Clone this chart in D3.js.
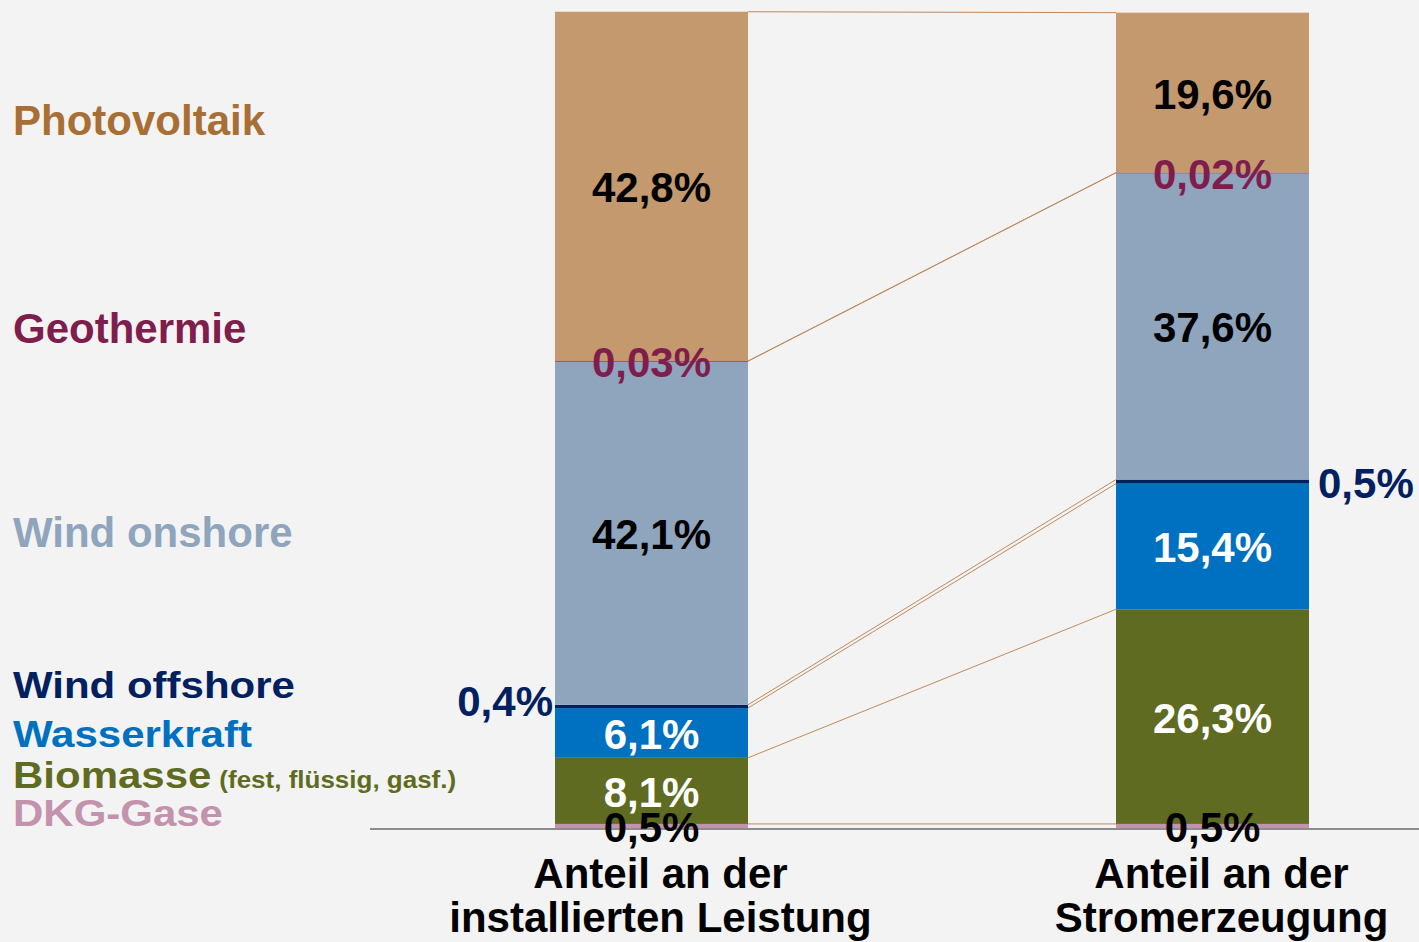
<!DOCTYPE html>
<html lang="de">
<head>
<meta charset="utf-8">
<script src="https://cdn.jsdelivr.net/npm/d3@7/dist/d3.min.js"></script>
<style>
  html, body { margin: 0; padding: 0; background: #f3f3f3; }
  svg { display: block; font-family: "Liberation Sans", Arial, sans-serif; font-weight: bold; }
</style>
</head>
<body>
<div id="chart"></div>
<script>
// data, stacked from the bottom up
const SOURCES = ['DKG-Gase', 'Biomasse', 'Wasserkraft', 'Wind offshore', 'Wind onshore', 'Geothermie', 'Photovoltaik'];
const BARS = ['Anteil an der installierten Leistung', 'Anteil an der Stromerzeugung'];
const BAR_LINES = [['Anteil an der', 'installierten Leistung'], ['Anteil an der', 'Stromerzeugung']];
const SHARE_CAPACITY = [0.5, 8.1, 6.1, 0.4, 42.1, 0.03, 42.8];
const SHARE_GENERATION = [0.5, 26.3, 15.4, 0.5, 37.6, 0.02, 19.6];
const LABEL_CAPACITY = ['0,5%', '8,1%', '6,1%', '0,4%', '42,1%', '0,03%', '42,8%'];
const LABEL_GENERATION = ['0,5%', '26,3%', '15,4%', '0,5%', '37,6%', '0,02%', '19,6%'];

const FILL = {
  'DKG-Gase': '#c392ad',
  'Biomasse': '#5f6b21',
  'Wasserkraft': '#0070c0',
  'Wind offshore': '#002060',
  'Wind onshore': '#8ea5bd',
  'Geothermie': '#7f1d4d',
  'Photovoltaik': '#c4996d'
};
const LEGEND_COLOR = { ...FILL, 'Photovoltaik': '#a86f34' };
const VALUE_COLOR = {
  'Biomasse': '#ffffff', 'Wasserkraft': '#ffffff',
  'Geothermie': '#7f1d4d', 'Wind offshore': '#002060'
};
const LEGEND_LAYOUT = {
  'Photovoltaik': [135, 1], 'Geothermie': [343, 1], 'Wind onshore': [547, 1],
  'Wind offshore': [698, 0.87], 'Wasserkraft': [747, 0.87], 'Biomasse': [788, 0.9], 'DKG-Gase': [826, 0.9]
};

const width = 1419, height = 942;
const svg = d3.select('#chart').append('svg')
  .attr('width', width).attr('height', height);

svg.append('rect').attr('width', width).attr('height', height).attr('fill', '#f3f3f3');

const x = d3.scaleBand().domain(BARS).range([555, 1309]).paddingInner(0.656);
const y = d3.scaleLinear().domain([0, 100]).range([828, 12]);

const values = [SHARE_CAPACITY, SHARE_GENERATION];
const labels = [LABEL_CAPACITY, LABEL_GENERATION];

const stacked = BARS.map((bar, bi) => {
  let acc = 0;
  return SOURCES.map((src, si) => {
    const v = values[bi][si];
    const d = { bar, bi, src, si, y0: acc, y1: acc + v, label: labels[bi][si] };
    acc += v;
    return d;
  });
});

// connector lines between segment tops
const connectors = SOURCES.map((src, si) => ({ a: stacked[0][si].y1, b: stacked[1][si].y1 }));
svg.append('g').selectAll('line').data(connectors).join('line')
  .attr('x1', x(BARS[0]) + x.bandwidth())
  .attr('x2', x(BARS[1]))
  .attr('y1', (d) => y(d.a))
  .attr('y2', (d) => y(d.b))
  .attr('stroke', '#c08a5c')
  .attr('stroke-width', 1);

// bars
const barG = svg.append('g');
barG.selectAll('rect').data(stacked.flat()).join('rect')
  .attr('x', (d) => x(d.bar))
  .attr('width', x.bandwidth())
  .attr('y', (d) => y(d.y1))
  .attr('height', (d) => Math.max(y(d.y0) - y(d.y1), 0.6))
  .attr('fill', (d) => FILL[d.src]);

// axis baseline
svg.append('line')
  .attr('x1', 370).attr('x2', width)
  .attr('y1', 829).attr('y2', 829)
  .attr('stroke', '#8c8c8c').attr('stroke-width', 2);

// value labels
const valG = svg.append('g').style('font-size', '42px');
valG.selectAll('text').data(stacked.flat()).join('text')
  .attr('x', (d) => {
    if (d.src !== 'Wind offshore') return x(d.bar) + x.bandwidth() / 2;
    return d.bi === 0 ? x(d.bar) - 2 : x(d.bar) + x.bandwidth() + 9;
  })
  .attr('y', (d) => {
    const mid = (y(d.y0) + y(d.y1)) / 2;
    if (d.src === 'Wind offshore' && d.bi === 0) return mid + 10;
    return mid + 16;
  })
  .attr('text-anchor', (d) => {
    if (d.src !== 'Wind offshore') return 'middle';
    return d.bi === 0 ? 'end' : 'start';
  })
  .attr('fill', (d) => VALUE_COLOR[d.src] ?? '#000000')
  .text((d) => d.label);

// legend on the left
const legG = svg.append('g').style('font-size', '42px');
SOURCES.forEach((src) => {
  const [baseY, sy] = LEGEND_LAYOUT[src];
  const t = legG.append('text')
    .attr('transform', `translate(13,${baseY}) scale(1,${sy})`)
    .attr('fill', LEGEND_COLOR[src]);
  t.append('tspan').text(src);
  if (src === 'Biomasse') {
    t.append('tspan').attr('dx', 8).style('font-size', '26px').text('(fest, flüssig, gasf.)');
  }
});

// category labels under the bars
const catG = svg.append('g').style('font-size', '42px');
BARS.forEach((bar, bi) => {
  const cx = x(bar) + x.bandwidth() / 2 + 9;
  catG.append('text')
    .attr('text-anchor', 'middle')
    .attr('fill', '#000000')
    .selectAll('tspan').data(BAR_LINES[bi]).join('tspan')
    .attr('x', cx)
    .attr('y', (d, i) => 888 + i * 44)
    .text((d) => d);
});
</script>
</body>
</html>
